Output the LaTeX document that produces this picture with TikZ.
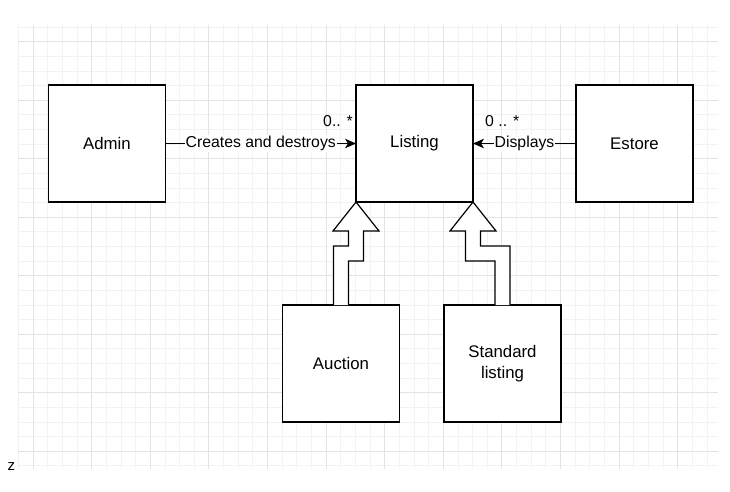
\documentclass[tikz,border=0pt]{standalone}
\usepackage{fontspec}
\setmainfont{Liberation Sans}
\usetikzlibrary{arrows.meta,calc}
\tikzset{
  box/.style={draw=black, line width=1.2pt, fill=white, minimum width=117pt, minimum height=117pt, inner sep=0pt, outer sep=0pt, align=center, font=\fontsize{16.8}{21.5}\selectfont},
  assoc/.style={draw=black, line width=1.2pt, -{Stealth[length=11pt,width=9.5pt,inset=3pt]}},
  elabel/.style={fill=white, inner sep=1pt, font=\fontsize{15.8}{18}\selectfont},
  mult/.style={inner sep=0pt, font=\fontsize{15.8}{18}\selectfont},
  fatarrow/.style={draw=black, line width=1.2pt, fill=white, line join=miter},
  minorgrid/.style={draw=black!5, line width=0.8pt},
  majorgrid/.style={draw=black!11, line width=1pt}
}
\begin{document}
\begin{tikzpicture}[x=1pt,y=-1pt]
\useasboundingbox (0,0) rectangle (730,491);
\fill[white] (0,0) rectangle (730,491);
% grid
\begin{scope}
\clip (18,25) rectangle (718,469);
\foreach \i in {0,...,48} {
  \pgfmathsetmacro{\xx}{18.4+14.65*\i}
  \draw[minorgrid] (\xx,25) -- (\xx,469);
}
\foreach \j in {0,...,30} {
  \pgfmathsetmacro{\yy}{27.1+14.625*\j}
  \draw[minorgrid] (18,\yy) -- (718,\yy);
}
\foreach \i in {0,...,11} {
  \pgfmathsetmacro{\xx}{33+58.6*\i}
  \draw[majorgrid] (\xx,25) -- (\xx,469);
}
\foreach \j in {0,...,7} {
  \pgfmathsetmacro{\yy}{41.7+58.5*\j}
  \draw[majorgrid] (18,\yy) -- (718,\yy);
}
\end{scope}
% boxes
\node[box] (admin) at (107,143.5) {Admin};
\node[box] (listing) at (414.5,143.5) {Listing};
\node[box] (estore) at (634.5,143.5) {Estore};
\node[box] (auction) at (341,363.5) {Auction};
\node[box] (standard) at (502.5,363.5) {Standard\\listing};
% associations
\draw[assoc] (admin.east) -- node[elabel] (l1) {Creates and destroys} (listing.west);
\draw[assoc] (estore.west) -- node[elabel] (l2) {Displays} (listing.east);
\node[mult, anchor=east] (m1) at ($(listing.west)+(-3,-22)$) {0.. *};
\node[mult, anchor=west] (m2) at ($(listing.east)+(12,-22)$) {0 .. *};
% generalisation block arrows
\draw[fatarrow]
  ($(auction.north)+(-7.5,0)$) -- ($(auction.north)+(-7.5,-59)$)
  -- ($(listing.south west)+(-7.5,44)$) -- ($(listing.south west)+(-7.5,29)$)
  -- ($(listing.south west)+(-23,29)$) -- (listing.south west)
  -- ($(listing.south west)+(23,29)$) -- ($(listing.south west)+(7.5,29)$)
  -- ($(listing.south west)+(7.5,59)$) -- ($(auction.north)+(7.5,-44)$)
  -- ($(auction.north)+(7.5,0)$);
\draw[fatarrow]
  ($(standard.north)+(-7.5,0)$) -- ($(standard.north)+(-7.5,-44)$)
  -- ($(listing.south east)+(-7.5,59)$) -- ($(listing.south east)+(-7.5,29)$)
  -- ($(listing.south east)+(-23,29)$) -- (listing.south east)
  -- ($(listing.south east)+(23,29)$) -- ($(listing.south east)+(7.5,29)$)
  -- ($(listing.south east)+(7.5,44)$) -- ($(standard.north)+(7.5,-59)$)
  -- ($(standard.north)+(7.5,0)$);
% stray letter
\node[anchor=base west, inner sep=0pt, font=\fontsize{15}{18}\selectfont] (zz) at (7.5,470) {z};
\end{tikzpicture}
\end{document}
